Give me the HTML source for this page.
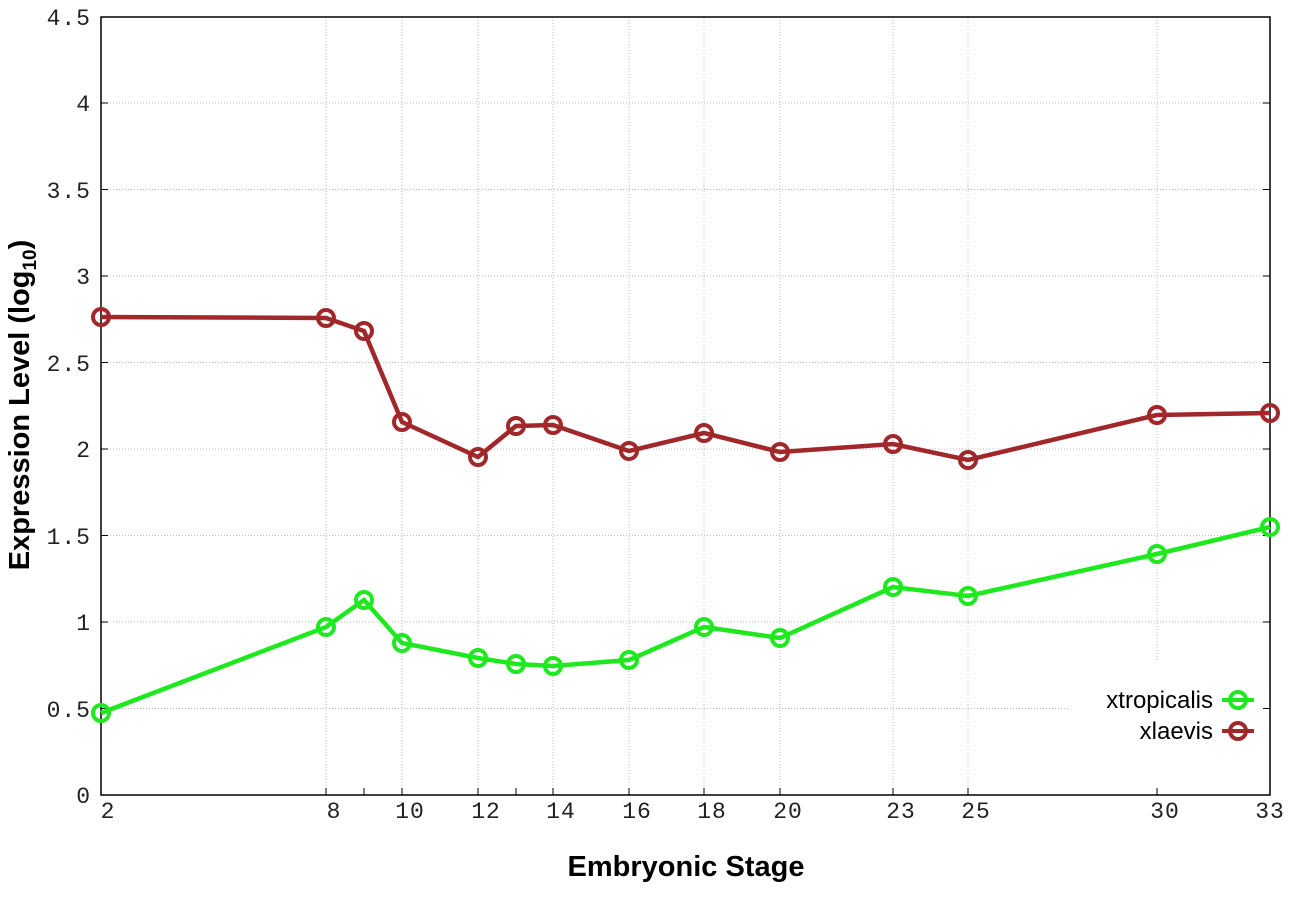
<!DOCTYPE html>
<html><head><style>body{margin:0;background:#fff}</style></head><body>
<svg width="1296" height="907" xmlns="http://www.w3.org/2000/svg">
<g stroke="#bbb" stroke-width="1" stroke-dasharray="1,2">
<line x1="101" y1="708.5" x2="1070" y2="708.5"/><line x1="101" y1="622" x2="1270" y2="622"/>
<line x1="101" y1="535.5" x2="1270" y2="535.5"/><line x1="101" y1="449" x2="1270" y2="449"/>
<line x1="101" y1="362.5" x2="1270" y2="362.5"/><line x1="101" y1="276" x2="1270" y2="276"/>
<line x1="101" y1="189.5" x2="1270" y2="189.5"/><line x1="101" y1="103" x2="1270" y2="103"/>
<line x1="326" y1="17" x2="326" y2="795"/><line x1="402" y1="17" x2="402" y2="795"/>
<line x1="478" y1="17" x2="478" y2="795"/><line x1="553" y1="17" x2="553" y2="795"/>
<line x1="629" y1="17" x2="629" y2="795"/><line x1="704" y1="17" x2="704" y2="795"/>
<line x1="780" y1="17" x2="780" y2="795"/><line x1="893" y1="17" x2="893" y2="795"/>
<line x1="968" y1="17" x2="968" y2="795"/><line x1="1157" y1="17" x2="1157" y2="660"/>
</g>
<rect x="101" y="17" width="1169" height="778" fill="none" stroke="#000" stroke-width="1.5"/>
<g stroke="#000" stroke-width="1">
<line x1="101" y1="708.5" x2="108" y2="708.5"/><line x1="101" y1="622" x2="108" y2="622"/><line x1="101" y1="535.5" x2="108" y2="535.5"/><line x1="101" y1="449" x2="108" y2="449"/><line x1="101" y1="362.5" x2="108" y2="362.5"/><line x1="101" y1="276" x2="108" y2="276"/><line x1="101" y1="189.5" x2="108" y2="189.5"/><line x1="101" y1="103" x2="108" y2="103"/>
<line x1="1263" y1="708.5" x2="1270" y2="708.5"/><line x1="1263" y1="622" x2="1270" y2="622"/><line x1="1263" y1="535.5" x2="1270" y2="535.5"/><line x1="1263" y1="449" x2="1270" y2="449"/><line x1="1263" y1="362.5" x2="1270" y2="362.5"/><line x1="1263" y1="276" x2="1270" y2="276"/><line x1="1263" y1="189.5" x2="1270" y2="189.5"/><line x1="1263" y1="103" x2="1270" y2="103"/>
<line x1="326" y1="795" x2="326" y2="788"/><line x1="364" y1="795" x2="364" y2="788"/><line x1="402" y1="795" x2="402" y2="788"/><line x1="478" y1="795" x2="478" y2="788"/><line x1="516" y1="795" x2="516" y2="788"/><line x1="553" y1="795" x2="553" y2="788"/><line x1="629" y1="795" x2="629" y2="788"/><line x1="704" y1="795" x2="704" y2="788"/><line x1="780" y1="795" x2="780" y2="788"/><line x1="893" y1="795" x2="893" y2="788"/><line x1="968" y1="795" x2="968" y2="788"/><line x1="1157" y1="795" x2="1157" y2="788"/>
</g>
<g font-family="Liberation Mono, monospace" font-size="23" fill="#222" text-anchor="end" letter-spacing="1">
<text x="91" y="803">0</text><text x="91" y="717">0.5</text><text x="91" y="630">1</text><text x="91" y="544">1.5</text><text x="91" y="457">2</text><text x="91" y="371">2.5</text><text x="91" y="284">3</text><text x="91" y="198">3.5</text><text x="91" y="111">4</text><text x="91" y="25">4.5</text>
</g>
<g font-family="Liberation Mono, monospace" font-size="23" fill="#222" text-anchor="middle" letter-spacing="1">
<text x="108" y="818">2</text><text x="334" y="818">8</text><text x="410" y="818">10</text><text x="486" y="818">12</text><text x="561" y="818">14</text><text x="637" y="818">16</text><text x="712" y="818">18</text><text x="788" y="818">20</text><text x="901" y="818">23</text><text x="976" y="818">25</text><text x="1165" y="818">30</text><text x="1270" y="818">33</text>
</g>
<text x="686" y="876" font-family="Liberation Sans, sans-serif" font-weight="bold" font-size="29" text-anchor="middle">Embryonic Stage</text>
<text transform="translate(29,405) rotate(-90)" font-family="Liberation Sans, sans-serif" font-weight="bold" font-size="29" text-anchor="middle">Expression Level (log<tspan font-size="19" dy="7">10</tspan><tspan dy="-7">)</tspan></text>
<g fill="none" stroke="#a0282a" stroke-width="4.5">
<polyline points="101,317 326,318 364,331 402,422 478,457 516,426 553,425 629,451 704,433 780,452 893,444 968,460 1157,415 1270,413"/>
<g stroke-width="4"><circle cx="101" cy="317" r="8"/><circle cx="326" cy="318" r="8"/><circle cx="364" cy="331" r="8"/><circle cx="402" cy="422" r="8"/><circle cx="478" cy="457" r="8"/><circle cx="516" cy="426" r="8"/><circle cx="553" cy="425" r="8"/><circle cx="629" cy="451" r="8"/><circle cx="704" cy="433" r="8"/><circle cx="780" cy="452" r="8"/><circle cx="893" cy="444" r="8"/><circle cx="968" cy="460" r="8"/><circle cx="1157" cy="415" r="8"/><circle cx="1270" cy="413" r="8"/></g>
</g>
<g fill="none" stroke="#1ee81e" stroke-width="4.5">
<polyline points="101,713 326,627 364,600 402,643 478,658 516,664 553,666 629,660 704,627 780,638 893,587 968,596 1157,554 1270,527"/>
<g stroke-width="4"><circle cx="101" cy="713" r="8"/><circle cx="326" cy="627" r="8"/><circle cx="364" cy="600" r="8"/><circle cx="402" cy="643" r="8"/><circle cx="478" cy="658" r="8"/><circle cx="516" cy="664" r="8"/><circle cx="553" cy="666" r="8"/><circle cx="629" cy="660" r="8"/><circle cx="704" cy="627" r="8"/><circle cx="780" cy="638" r="8"/><circle cx="893" cy="587" r="8"/><circle cx="968" cy="596" r="8"/><circle cx="1157" cy="554" r="8"/><circle cx="1270" cy="527" r="8"/></g>
</g>
<g font-family="Liberation Sans, sans-serif" font-size="24" text-anchor="end" fill="#000">
<text x="1213" y="708">xtropicalis</text><text x="1213" y="739">xlaevis</text>
</g>
<g fill="none" stroke-width="4">
<line x1="1222" y1="700" x2="1254" y2="700" stroke="#1ee81e"/><circle cx="1238" cy="700" r="8" stroke="#1ee81e"/>
<line x1="1222" y1="731" x2="1254" y2="731" stroke="#a0282a"/><circle cx="1238" cy="731" r="8" stroke="#a0282a"/>
</g>
</svg>
</body></html>
